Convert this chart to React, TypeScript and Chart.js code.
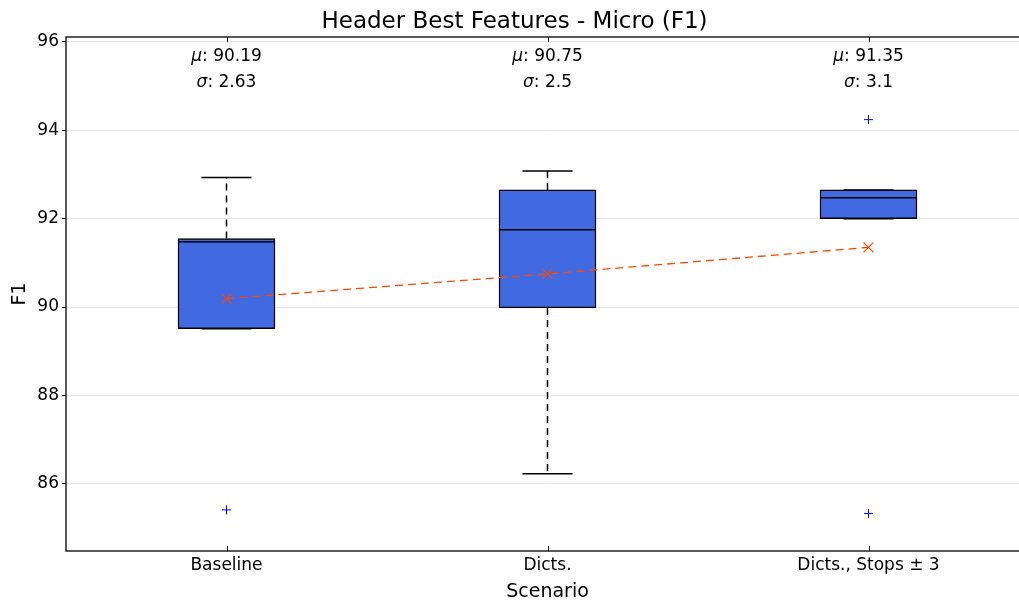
import React, { useEffect, useRef } from "react";
import { Chart, registerables } from "chart.js";

Chart.register(...registerables);

const categories = ["Baseline", "Dicts.", "Dicts., Stops \u00b1 3"];
const q1 = [89.51, 89.98, 92.0];
const q3 = [91.55, 92.65, 92.65];
const medians = [91.48, 91.75, 92.47];
const whiskerLow = [89.51, 86.23, 92.0];
const whiskerHigh = [92.93, 93.08, 92.65];
const means = [90.19, 90.75, 91.35];
const stds = [2.63, 2.5, 3.1];
const outliers: number[][] = [[85.41], [], [94.24, 85.33]];
const yTicks = [86, 88, 90, 92, 94, 96];
const yMin = 84.48;
const yMax = 96.11;
const muLabelY = 95.66;
const sigmaLabelY = 95.07;

const FONT = "'DejaVu Sans', sans-serif";
const BOX_HALF = 0.15;
const CAP_HALF = 0.078;

const boxParts = {
  id: "boxParts",
  beforeDatasetsDraw(chart: any) {
    const { ctx, scales } = chart;
    const x = scales.x;
    const y = scales.y;
    ctx.save();
    ctx.strokeStyle = "#000";
    ctx.lineWidth = 1.5;
    categories.forEach((_, i) => {
      const cx = x.getPixelForValue(i);
      ctx.setLineDash([7, 5]);
      ctx.beginPath();
      ctx.moveTo(cx, y.getPixelForValue(q3[i]));
      ctx.lineTo(cx, y.getPixelForValue(whiskerHigh[i]));
      ctx.moveTo(cx, y.getPixelForValue(q1[i]));
      ctx.lineTo(cx, y.getPixelForValue(whiskerLow[i]));
      ctx.stroke();
      ctx.setLineDash([]);
      ctx.beginPath();
      const l = x.getPixelForValue(i - CAP_HALF);
      const r = x.getPixelForValue(i + CAP_HALF);
      [whiskerHigh[i], whiskerLow[i]].forEach((v) => {
        const py = y.getPixelForValue(v);
        ctx.moveTo(l, py);
        ctx.lineTo(r, py);
      });
      ctx.stroke();
    });
    ctx.restore();
  },
  afterDatasetDraw(chart: any, args: any) {
    if (args.meta.type !== "bar") return;
    const { ctx, scales } = chart;
    const x = scales.x;
    const y = scales.y;
    ctx.save();
    ctx.strokeStyle = "#000";
    ctx.lineWidth = 1.5;
    categories.forEach((_, i) => {
      const py = y.getPixelForValue(medians[i]);
      ctx.beginPath();
      ctx.moveTo(x.getPixelForValue(i - BOX_HALF), py);
      ctx.lineTo(x.getPixelForValue(i + BOX_HALF), py);
      ctx.stroke();
    });
    ctx.restore();
  },
  afterDatasetsDraw(chart: any) {
    const { ctx, scales, chartArea } = chart;
    const x = scales.x;
    const y = scales.y;
    ctx.save();
    ctx.strokeStyle = "#000";
    ctx.lineWidth = 1.3;
    ctx.strokeRect(chartArea.left, chartArea.top, chartArea.right - chartArea.left, chartArea.bottom - chartArea.top);
    ctx.lineWidth = 1;
    categories.forEach((_, i) => {
      const px = Math.round(x.getPixelForValue(i)) + 0.5;
      ctx.beginPath();
      ctx.moveTo(px, chartArea.bottom);
      ctx.lineTo(px, chartArea.bottom - 5);
      ctx.moveTo(px, chartArea.top);
      ctx.lineTo(px, chartArea.top + 5);
      ctx.stroke();
    });
    ctx.fillStyle = "#000";
    ctx.textBaseline = "middle";
    ctx.textAlign = "left";
    categories.forEach((_, i) => {
      const cx = x.getPixelForValue(i);
      const rows: [string, string, number][] = [
        ["\u03bc", ": " + means[i].toFixed(2), muLabelY],
        ["\u03c3", ": " + String(stds[i]), sigmaLabelY],
      ];
      rows.forEach(([sym, rest, val]) => {
        ctx.font = `italic 17px ${FONT}`;
        const w1 = ctx.measureText(sym).width;
        ctx.font = `17px ${FONT}`;
        const w2 = ctx.measureText(rest).width;
        const start = cx - (w1 + w2) / 2;
        const py = y.getPixelForValue(val);
        ctx.font = `italic 17px ${FONT}`;
        ctx.fillText(sym, start, py);
        ctx.font = `17px ${FONT}`;
        ctx.fillText(rest, start + w1, py);
      });
    });
    ctx.restore();
  },
};

export default function App() {
  const canvasRef = useRef<HTMLCanvasElement | null>(null);

  useEffect(() => {
    if (!canvasRef.current) return;
    Chart.defaults.font.family = FONT;
    Chart.defaults.color = "#000";

    const outlierPoints: { x: number; y: number }[] = [];
    outliers.forEach((arr, i) => arr.forEach((v) => outlierPoints.push({ x: i, y: v })));

    const chart = new Chart(canvasRef.current, {
      type: "bar",
      data: {
        datasets: [
          {
            type: "line",
            label: "Mean",
            data: means.map((v, i) => ({ x: i, y: v })),
            borderColor: "#ff4500",
            borderWidth: 1.3,
            borderDash: [8, 5],
            pointStyle: "crossRot",
            pointRadius: 7,
            pointBorderColor: "#ff4500",
            pointBorderWidth: 1.2,
            fill: false,
            order: 1,
          } as any,
          {
            type: "scatter",
            label: "Outliers",
            data: outlierPoints,
            pointStyle: "cross",
            pointRadius: 4.5,
            pointBorderColor: "#0000ff",
            pointBorderWidth: 1,
            showLine: false,
            order: 2,
          } as any,
          {
            type: "bar",
            label: "Box",
            data: q1.map((v, i) => ({ x: i, y: [v, q3[i]] })),
            backgroundColor: "#4169e1",
            borderColor: "#000",
            borderWidth: 1.5,
            borderSkipped: false,
            barThickness: 97,
            order: 3,
          } as any,
        ],
      },
      options: {
        animation: false,
        responsive: true,
        maintainAspectRatio: false,
        layout: { padding: { left: 0, right: 11, top: 0, bottom: 0 } },
        plugins: {
          legend: { display: false },
          tooltip: { enabled: false },
          title: {
            display: true,
            text: "Header Best Features - Micro (F1)",
            color: "#000",
            font: { size: 23, weight: "normal", family: FONT, lineHeight: 1.2 },
            padding: { top: 8, bottom: 1.4 },
          },
        },
        scales: {
          x: {
            type: "linear",
            min: -0.5,
            max: 2.5,
            offset: false,
            grid: { display: false, drawTicks: false },
            border: { display: false },
            afterBuildTicks: (scale: any) => {
              scale.ticks = categories.map((_, i) => ({ value: i }));
            },
            afterFit: (scale: any) => {
              scale.height = 52;
            },
            ticks: {
              autoSkip: false,
              maxRotation: 0,
              padding: 4,
              color: "#000",
              font: { size: 17, family: FONT },
              callback: (v: any) => categories[v as number] ?? "",
            },
            title: {
              display: true,
              text: "Scenario",
              color: "#000",
              font: { size: 19, family: FONT },
              padding: { top: 0, bottom: 0 },
            },
          },
          y: {
            type: "linear",
            min: yMin,
            max: yMax,
            grid: {
              color: "#e6e6e6",
              lineWidth: 1,
              tickColor: "#000",
              tickLength: 4,
              drawTicks: true,
            },
            border: { display: false },
            afterBuildTicks: (scale: any) => {
              scale.ticks = yTicks.map((v) => ({ value: v }));
            },
            afterFit: (scale: any) => {
              scale.width = 66;
            },
            ticks: {
              padding: 3,
              color: "#000",
              font: { size: 17, family: FONT },
              callback: (v: any) => String(v),
            },
            title: {
              display: true,
              text: "F1",
              color: "#000",
              font: { size: 19, family: FONT },
              padding: { top: 9, bottom: 0 },
            },
          },
        },
      },
      plugins: [boxParts],
    } as any);

    return () => chart.destroy();
  }, []);

  return (
    <div
      style={{
        position: "absolute",
        left: 0,
        top: 0,
        width: 1019,
        height: 603,
        overflow: "hidden",
        background: "#fff",
      }}
    >
      <div style={{ position: "relative", width: 1040, height: 603 }}>
        <canvas ref={canvasRef} />
      </div>
    </div>
  );
}
